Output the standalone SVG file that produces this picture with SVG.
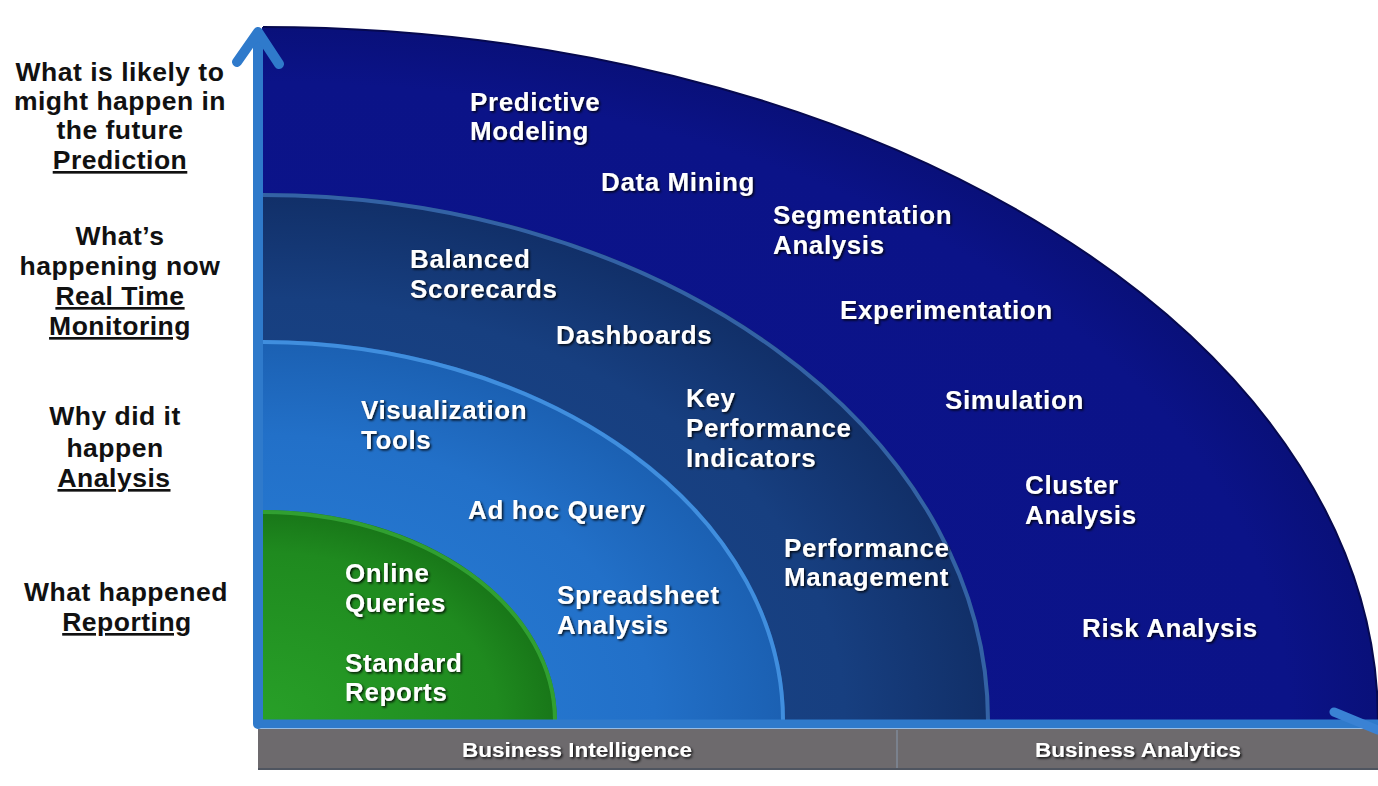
<svg xmlns="http://www.w3.org/2000/svg" width="1378" height="786" viewBox="0 0 1378 786">
<defs>
<radialGradient id="gNavy" cx="0" cy="1" r="1">
<stop offset="0" stop-color="#0d158e"/><stop offset="0.92" stop-color="#0b1388"/><stop offset="1" stop-color="#09107a"/>
</radialGradient>
<radialGradient id="gMid" cx="0" cy="1" r="1">
<stop offset="0" stop-color="#1c4a8e"/><stop offset="0.8" stop-color="#173f80"/><stop offset="1" stop-color="#112f68"/>
</radialGradient>
<radialGradient id="gBlue" cx="0" cy="1" r="1">
<stop offset="0" stop-color="#2a82dc"/><stop offset="0.75" stop-color="#2270c8"/><stop offset="1" stop-color="#1b60b2"/>
</radialGradient>
<radialGradient id="gGreen" cx="0" cy="1" r="1">
<stop offset="0" stop-color="#28a028"/><stop offset="0.8" stop-color="#1f8a1f"/><stop offset="1" stop-color="#187618"/>
</radialGradient>
<filter id="sh" x="-10%" y="-30%" width="120%" height="160%">
<feDropShadow dx="1.5" dy="1.5" stdDeviation="1" flood-color="#000" flood-opacity="0.85"/>
</filter>
<style>
.lbl{font-family:"Liberation Sans",Arial,sans-serif;font-weight:bold;font-size:26px;letter-spacing:0.6px;fill:#fff}
.lft{font-family:"Liberation Sans",Arial,sans-serif;font-weight:bold;font-size:26.5px;letter-spacing:0.5px;fill:#111;text-anchor:middle}
.u{text-decoration:underline}
.bar{font-family:"Liberation Sans",Arial,sans-serif;font-weight:bold;font-size:20px;fill:#fff}
.axis{stroke:#2f7acb;stroke-width:10;stroke-linecap:round;fill:none}
.hl{fill:none;stroke-width:4}
</style>
</defs>

<g id="regions">
<g id="analytics-region">
<path d="M262,721 L262,27 A1116,694 0 0 1 1378,721 Z" fill="url(#gNavy)"/>
<path d="M263,27 A1116,694 0 0 1 1378,721" fill="none" stroke="#06094f" stroke-width="2"/>
</g>
<g id="monitoring-region">
<path d="M262,721 L262,193 A728,528 0 0 1 990,721 Z" fill="url(#gMid)"/>
<path d="M263,195 A727,526 0 0 1 988,721" class="hl" stroke="#3c6fb4" opacity="0.8"/>
</g>
<g id="analysis-region">
<path d="M262,721 L262,340 A523,381 0 0 1 785,721 Z" fill="url(#gBlue)"/>
<path d="M263,342 A522,379 0 0 1 783,721" class="hl" stroke="#4a9ae8" opacity="0.8"/>
</g>
<g id="reporting-region">
<path d="M262,721 L262,510 A295,211 0 0 1 557,721 Z" fill="url(#gGreen)"/>
<path d="M263,512 A294,209 0 0 1 555,721" class="hl" stroke="#3cb03c" opacity="0.7"/>
</g>
</g>

<g id="bottom-bar">
<rect x="258" y="729" width="1120" height="41" fill="#6d6a6d"/>
<rect x="258" y="768" width="1120" height="2" fill="#4f5560"/>
<line x1="897" y1="730" x2="897" y2="768" stroke="#7f8a98" stroke-width="1.5"/>
<text class="bar" x="577" y="757" text-anchor="middle" textLength="230" lengthAdjust="spacingAndGlyphs" filter="url(#sh)">Business Intelligence</text>
<text class="bar" x="1138" y="757" text-anchor="middle" textLength="206" lengthAdjust="spacingAndGlyphs" filter="url(#sh)">Business Analytics</text>
</g>

<g id="connectors">
<line x1="257" y1="724" x2="1378" y2="724" stroke="#2f7acb" stroke-width="9"/>
<line x1="258" y1="724" x2="258" y2="34" class="axis"/>
<polyline points="237,62 258,32 279,64" class="axis" stroke-linejoin="round"/>
<line x1="1334" y1="712" x2="1378" y2="730" stroke="#3a82d4" stroke-width="9" stroke-linecap="round"/>
</g>

<g id="left-labels">
<text class="lft" x="120" y="81">What is likely to</text>
<text class="lft" x="120" y="110">might happen in</text>
<text class="lft" x="120" y="139">the future</text>
<text class="lft u" x="120" y="169">Prediction</text>
<text class="lft" x="120" y="245">What’s</text>
<text class="lft" x="120" y="275">happening now</text>
<text class="lft u" x="120" y="305">Real Time</text>
<text class="lft u" x="120" y="335">Monitoring</text>
<text class="lft" x="115" y="425">Why did it</text>
<text class="lft" x="115" y="457">happen</text>
<text class="lft u" x="114" y="487">Analysis</text>
<text class="lft" x="126" y="601">What happened</text>
<text class="lft u" x="127" y="631">Reporting</text>
</g>

<g id="labels" filter="url(#sh)">
<g id="predictive-modeling"><text class="lbl" x="470" y="111">Predictive</text><text class="lbl" x="470" y="140">Modeling</text></g>
<g id="data-mining"><text class="lbl" x="601" y="191">Data Mining</text></g>
<g id="segmentation-analysis"><text class="lbl" x="773" y="224">Segmentation</text><text class="lbl" x="773" y="254">Analysis</text></g>
<g id="experimentation"><text class="lbl" x="840" y="319">Experimentation</text></g>
<g id="simulation"><text class="lbl" x="945" y="409">Simulation</text></g>
<g id="cluster-analysis"><text class="lbl" x="1025" y="494">Cluster</text><text class="lbl" x="1025" y="524">Analysis</text></g>
<g id="risk-analysis"><text class="lbl" x="1082" y="637">Risk Analysis</text></g>
<g id="balanced-scorecards"><text class="lbl" x="410" y="268">Balanced</text><text class="lbl" x="410" y="298">Scorecards</text></g>
<g id="dashboards"><text class="lbl" x="556" y="344">Dashboards</text></g>
<g id="kpi"><text class="lbl" x="686" y="407">Key</text><text class="lbl" x="686" y="437">Performance</text><text class="lbl" x="686" y="467">Indicators</text></g>
<g id="performance-management"><text class="lbl" x="784" y="557">Performance</text><text class="lbl" x="784" y="586">Management</text></g>
<g id="visualization-tools"><text class="lbl" x="361" y="419">Visualization</text><text class="lbl" x="361" y="449">Tools</text></g>
<g id="ad-hoc-query"><text class="lbl" x="468" y="519">Ad hoc Query</text></g>
<g id="spreadsheet-analysis"><text class="lbl" x="557" y="604">Spreadsheet</text><text class="lbl" x="557" y="634">Analysis</text></g>
<g id="online-queries"><text class="lbl" x="345" y="582">Online</text><text class="lbl" x="345" y="612">Queries</text></g>
<g id="standard-reports"><text class="lbl" x="345" y="672">Standard</text><text class="lbl" x="345" y="701">Reports</text></g>
</g>
</svg>
